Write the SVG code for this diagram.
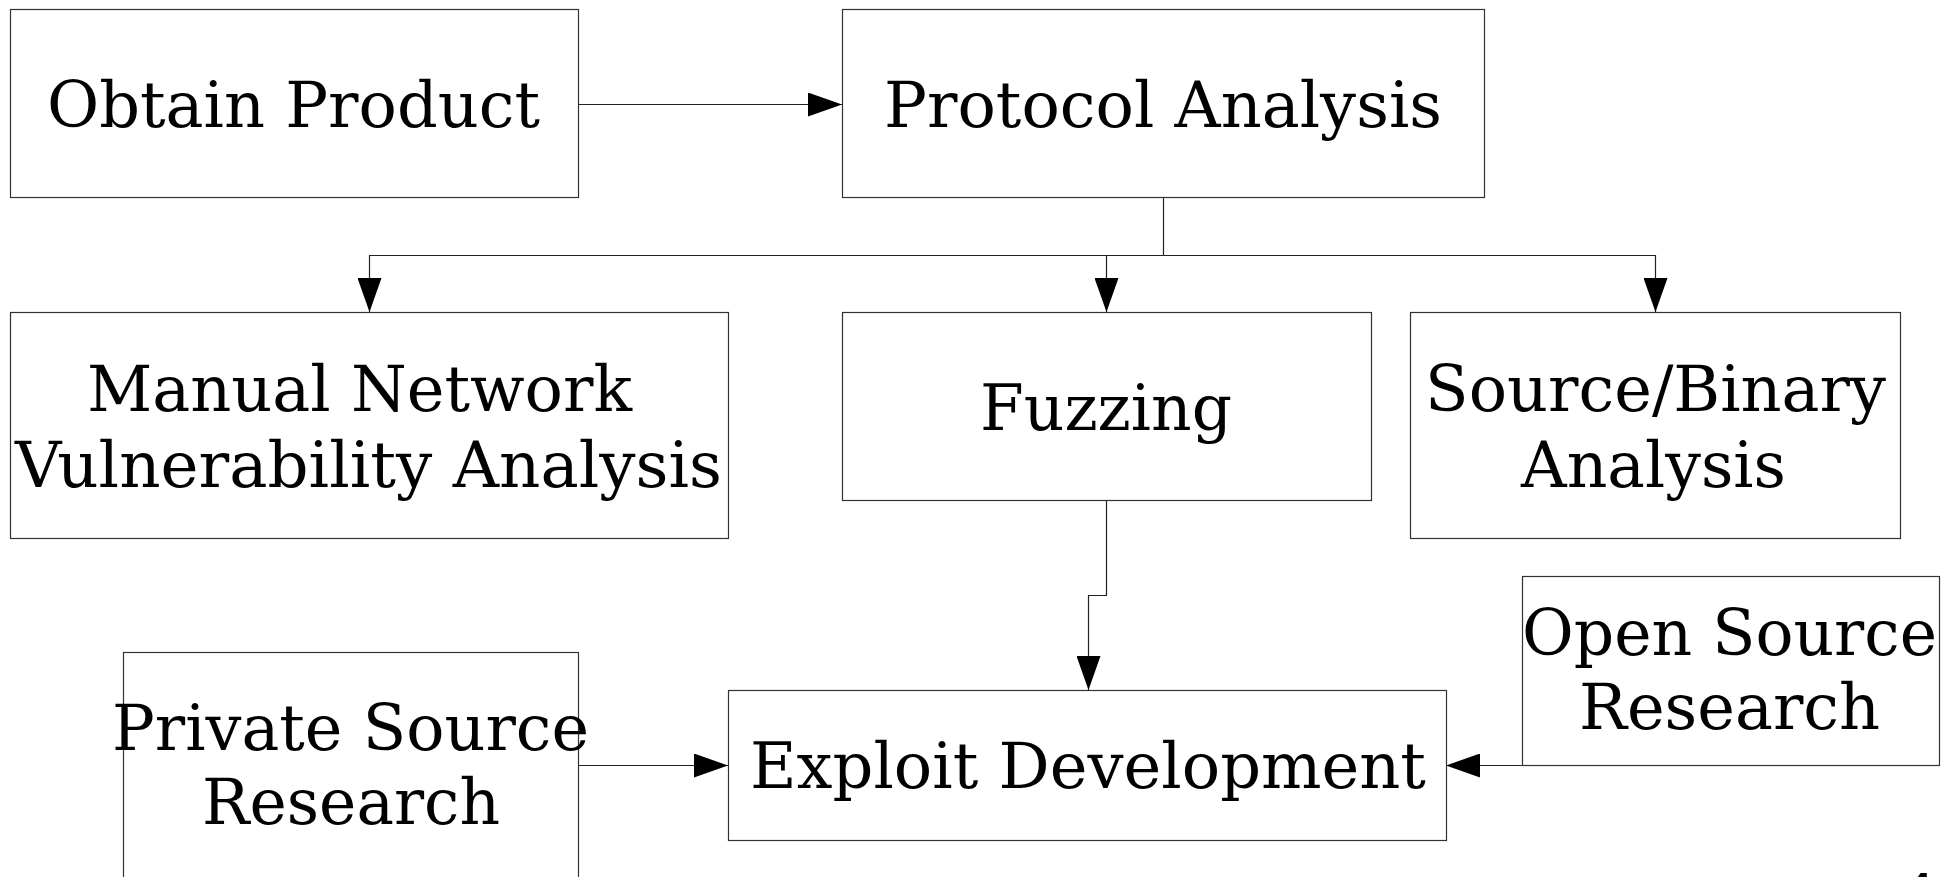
<svg xmlns="http://www.w3.org/2000/svg" width="1956" height="877" viewBox="0 0 1956 877">
<style>
.box{fill:#fff;stroke:#333;stroke-width:1.2}
.t{font-family:"DejaVu Serif","Liberation Serif",serif;font-size:64px;fill:#000}
.c{fill:none;stroke:#222;stroke-width:1.2;marker-end:url(#ah)}
.cn{fill:none;stroke:#222;stroke-width:1.2}
</style>
<defs>
<marker id="ah" markerUnits="userSpaceOnUse" markerWidth="34" markerHeight="24" refX="34" refY="12" orient="auto">
<path d="M0,0 L34,12 L0,24 z" fill="#000"/>
</marker>
</defs>
<rect width="1956" height="877" fill="#fff"/>
<g id="connectors">
<path class="c" d="M578.5 104.5 H842"/>
<path class="cn" d="M1163.5 197 V255.5"/>
<path class="c" d="M1163.5 255.5 H369.5 V312"/>
<path class="c" d="M1163.5 255.5 H1106.5 V312"/>
<path class="c" d="M1163.5 255.5 H1655.5 V312"/>
<path class="c" d="M1106.5 500 V595.5 H1088.5 V690"/>
<path class="c" d="M1522 765.5 H1446"/>
<path class="c" d="M578.5 765.5 H728"/>
</g>
<g id="obtain-product">
<rect class="box" x="10.5" y="9.5" width="568" height="188"/>
<text class="t" x="47" y="127" textLength="493" lengthAdjust="spacingAndGlyphs">Obtain Product</text>
</g>
<g id="protocol-analysis">
<rect class="box" x="842.5" y="9.5" width="642" height="188"/>
<text class="t" x="884" y="127" textLength="558" lengthAdjust="spacingAndGlyphs">Protocol Analysis</text>
</g>
<g id="manual-network">
<rect class="box" x="10.5" y="312.5" width="718" height="226"/>
<text class="t" x="87" y="411" textLength="545" lengthAdjust="spacingAndGlyphs">Manual Network</text>
<text class="t" x="15" y="487" textLength="707" lengthAdjust="spacingAndGlyphs">Vulnerability Analysis</text>
</g>
<g id="fuzzing">
<rect class="box" x="842.5" y="312.5" width="529" height="188"/>
<text class="t" x="980" y="430" textLength="252" lengthAdjust="spacingAndGlyphs">Fuzzing</text>
</g>
<g id="source-binary">
<rect class="box" x="1410.5" y="312.5" width="490" height="226"/>
<text class="t" x="1425" y="411" textLength="461" lengthAdjust="spacingAndGlyphs">Source/Binary</text>
<text class="t" x="1521" y="487" textLength="265" lengthAdjust="spacingAndGlyphs">Analysis</text>
</g>
<g id="open-source">
<rect class="box" x="1522.5" y="576.5" width="417" height="189"/>
<text class="t" x="1522" y="655" textLength="415" lengthAdjust="spacingAndGlyphs">Open Source</text>
<text class="t" x="1579" y="729" textLength="301" lengthAdjust="spacingAndGlyphs">Research</text>
</g>
<g id="private-source">
<rect class="box" x="123.5" y="652.5" width="455" height="240"/>
<text class="t" x="112" y="750" textLength="477" lengthAdjust="spacingAndGlyphs">Private Source</text>
<text class="t" x="202" y="824" textLength="298" lengthAdjust="spacingAndGlyphs">Research</text>
</g>
<g id="exploit-development">
<rect class="box" x="728.5" y="690.5" width="718" height="150"/>
<text class="t" x="750" y="788" textLength="676" lengthAdjust="spacingAndGlyphs">Exploit Development</text>
</g>
<text x="1903" y="909" style="font-family:'DejaVu Sans',sans-serif;font-size:50px;fill:#000">4</text>
</svg>
